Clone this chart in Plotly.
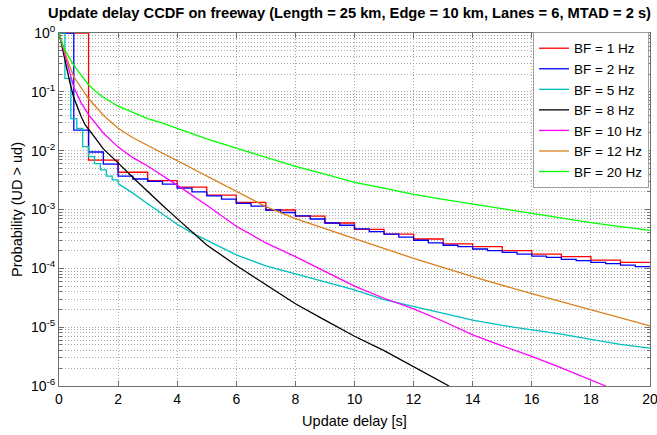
import plotly.graph_objects as go

# ---------------- data ----------------
series_names = ["BF = 1 Hz", "BF = 2 Hz", "BF = 5 Hz", "BF = 8 Hz",
                "BF = 10 Hz", "BF = 12 Hz", "BF = 20 Hz"]
series_colors = ["#FF0000", "#0000FF", "#00BFBF", "#000000",
                 "#FF00FF", "#D9801A", "#00FF00"]

# BF = 1 Hz : staircase, 1 s steps (value holds from x until next x)
red_x = [0, 1, 2, 3, 4, 5, 6, 7, 8, 9, 10, 11, 12, 13, 14, 15, 16, 17, 18, 19, 20]
red_y = [1.0, 0.0069, 0.0043, 0.0031, 0.0024, 0.00176, 0.00132, 0.00098, 0.00077,
         0.00059, 0.00046, 0.00038, 0.000315, 0.00026, 0.000233, 0.0002, 0.000174,
         0.000158, 0.000138, 0.000126, 0.000126]

# BF = 2 Hz : staircase, 0.5 s steps
blue_x = [0, 0.5, 1, 1.5, 2, 2.5, 3, 3.5, 4, 4.5, 5, 5.5, 6, 6.5, 7, 7.5, 8, 8.5, 9, 9.5,
          10, 10.5, 11, 11.5, 12, 12.5, 13, 13.5, 14, 14.5, 15, 15.5, 16, 16.5, 17, 17.5,
          18, 18.5, 19, 19.5, 20]
blue_y = [1.0, 0.0224, 0.0095, 0.0059, 0.0037, 0.0033, 0.003, 0.0027, 0.0023, 0.002,
          0.0017, 0.0015, 0.00127, 0.00114, 0.00098, 0.00089, 0.00078, 0.00069, 0.00059,
          0.00054, 0.00047, 0.00042, 0.00038, 0.00034, 0.0003, 0.00027, 0.000247,
          0.000233, 0.000213, 0.0002, 0.000187, 0.000174, 0.000161, 0.000154, 0.000142,
          0.000135, 0.000126, 0.00012, 0.000113, 0.000107, 0.000104]

# BF = 5 Hz : visible 0.2 s staircase at the start, then a fine tail
cyan_step_x = [0, 0.2, 0.4, 0.6, 0.8, 1.0, 1.2, 1.4, 1.6, 1.8, 2.0]
cyan_step_y = [1.0, 0.17, 0.035, 0.024, 0.0117, 0.0079, 0.006, 0.0047, 0.0037, 0.0032,
               0.00275]
cyan_tail_x = [2.0, 2.5, 3, 3.5, 4, 4.5, 5, 6, 7, 8, 9, 10, 11, 12, 13, 14, 15, 16, 17,
               18, 19, 20]
cyan_tail_y = [0.00275, 0.0019, 0.00125, 0.00085, 0.00056, 0.0004, 0.0003, 0.00017,
               0.00011, 8.1e-05, 5.8e-05, 4.3e-05, 2.95e-05, 2.24e-05, 1.7e-05, 1.32e-05,
               1.07e-05, 9.1e-06, 7.6e-06, 6.2e-06, 5.1e-06, 4.4e-06]

# BF = 8 Hz
black_x = [0, 0.125, 0.25, 0.375, 0.5, 0.625, 0.75, 0.875, 1.0, 1.25, 1.5, 1.75, 2.0,
           2.5, 3, 3.5, 4, 4.5, 5, 6, 7, 8, 9, 10, 11, 12, 13, 13.2]
black_y = [1.0, 0.5, 0.27, 0.14, 0.079, 0.054, 0.038, 0.028, 0.0234, 0.0158, 0.0107,
           0.0083, 0.0062, 0.0035, 0.002, 0.00118, 0.0007, 0.00042, 0.00025, 0.000112,
           5.2e-05, 2.5e-05, 1.32e-05, 7.0e-06, 4.0e-06, 2.14e-06, 1.12e-06, 1.0e-06]

# BF = 10 Hz
magenta_x = [0, 0.1, 0.2, 0.3, 0.5, 0.75, 1.0, 1.5, 2, 2.5, 3, 3.5, 4, 5, 6, 7, 8, 9, 10,
             11, 12, 13, 14, 15, 16, 17, 18, 18.5]
magenta_y = [1.0, 0.63, 0.42, 0.28, 0.12, 0.065, 0.041, 0.02, 0.0115, 0.0076, 0.0055,
             0.0038, 0.0026, 0.00118, 0.00052, 0.00027, 0.000158, 8.9e-05, 5.0e-05,
             3.1e-05, 2.04e-05, 1.26e-05, 7.4e-06, 4.8e-06, 3.2e-06, 2.04e-06, 1.26e-06,
             1.0e-06]

# BF = 12 Hz
orange_x = [0, 0.1, 0.3, 0.5, 1.0, 1.5, 2, 2.5, 3, 3.5, 4, 5, 6, 7, 8, 9, 10, 12, 14,
            16, 18, 20]
orange_y = [1.0, 0.7, 0.33, 0.18, 0.077, 0.04, 0.024, 0.0166, 0.0123, 0.0091, 0.0068,
            0.0037, 0.002, 0.00112, 0.0007, 0.00048, 0.00032, 0.000148, 7.2e-05,
            3.7e-05, 1.95e-05, 1.05e-05]

# BF = 20 Hz
green_x = [0, 0.05, 0.1, 0.2, 0.3, 0.4, 0.6, 0.8, 1.0, 1.25, 1.5, 2, 2.5, 3, 3.5, 4, 5,
           6, 7, 8, 9, 10, 11, 12, 13, 14, 15, 16, 17, 18, 19, 20]
green_y = [1.0, 0.79, 0.68, 0.52, 0.42, 0.34, 0.24, 0.174, 0.132, 0.1, 0.081, 0.057,
           0.044, 0.035, 0.0295, 0.024, 0.0158, 0.011, 0.0076, 0.0054, 0.004, 0.0029,
           0.0023, 0.0018, 0.00148, 0.00123, 0.00102, 0.00085, 0.00072, 0.0006, 0.00051,
           0.00044]

x_tick_vals = [0, 2, 4, 6, 8, 10, 12, 14, 16, 18, 20]
y_tick_exps = [-6, -5, -4, -3, -2, -1, 0]

# ---------------- figure ----------------
FONT = "Liberation Sans, Arial, sans-serif"
LW = 1.3
W, H = 657, 435
ML, MR, MT, MB = 59, 7, 33, 49

fig = go.Figure()

def add(x, y, i, shape="linear", show=True):
    fig.add_trace(go.Scatter(
        x=x, y=y, mode="lines", name=series_names[i], legendgroup=series_names[i],
        showlegend=show, line=dict(color=series_colors[i], width=LW, shape=shape)))

add(red_x, red_y, 0, "hv")
add(blue_x, blue_y, 1, "hv")
add(cyan_step_x, cyan_step_y, 2, "hv")
add(cyan_tail_x, cyan_tail_y, 2, "linear", show=False)
add(black_x, black_y, 3)
add(magenta_x, magenta_y, 4)
add(orange_x, orange_y, 5)
add(green_x, green_y, 6)

minor_vals = [k * 10.0 ** e for e in range(-6, 0) for k in range(2, 10)]
grid_col = "#A8A8A8"
grid_dash = "1px,2px"
axis_col = "#6E6E6E"

fig.update_layout(
    width=W, height=H,
    margin=dict(l=ML, r=MR, t=MT, b=MB, autoexpand=False),
    paper_bgcolor="white", plot_bgcolor="white",
    font=dict(family=FONT, size=14, color="black"),
    title=dict(
        text="<b>Update delay CCDF on freeway (Length = 25 km, Edge = 10 km, Lanes = 6, MTAD = 2 s)</b>",
        font=dict(size=14.7, family=FONT, color="black"),
        x=349.5 / W, xref="container", xanchor="center",
        y=1 - 13 / H, yref="container", yanchor="middle"),
    legend=dict(
        x=(533 - ML) / (W - ML - MR), y=1.003, xanchor="left", yanchor="top",
        bgcolor="white", bordercolor="#A0A0A0", borderwidth=1,
        font=dict(size=13.5, family=FONT), tracegroupgap=0,
        itemwidth=30),
    showlegend=True,
)

fig.update_xaxes(
    range=[0, 20], tickvals=x_tick_vals, automargin=False,
    ticklabeloverflow="allow",
    showgrid=True, gridcolor=grid_col, griddash=grid_dash, gridwidth=1,
    showline=True, linecolor=axis_col, linewidth=1, mirror="ticks",
    ticks="inside", ticklen=5, tickcolor=axis_col,
    tickfont=dict(size=14),
    zeroline=False,
    title=dict(text="Update delay [s]", font=dict(size=14.5), standoff=10),
)
fig.update_yaxes(
    type="log", range=[-6, 0], automargin=False,
    ticklabeloverflow="allow",
    tickvals=[10.0 ** e for e in y_tick_exps],
    ticktext=["10<sup>%d</sup>" % e for e in y_tick_exps],
    tickfont=dict(size=14),
    showgrid=True, gridcolor=grid_col, griddash=grid_dash, gridwidth=1,
    showline=True, linecolor=axis_col, linewidth=1, mirror="ticks",
    ticks="inside", ticklen=5, tickcolor=axis_col,
    minor=dict(tickvals=minor_vals, ticks="inside", ticklen=3, tickcolor=axis_col,
               showgrid=True, gridcolor=grid_col, griddash=grid_dash, gridwidth=1),
    zeroline=False,
    title=dict(text="Probability (UD > ud)", font=dict(size=14.5), standoff=4),
)

fig.write_html("out.html", config={"displayModeBar": False},
               post_script="document.body.style.margin='0px';document.body.style.overflow='hidden';")
